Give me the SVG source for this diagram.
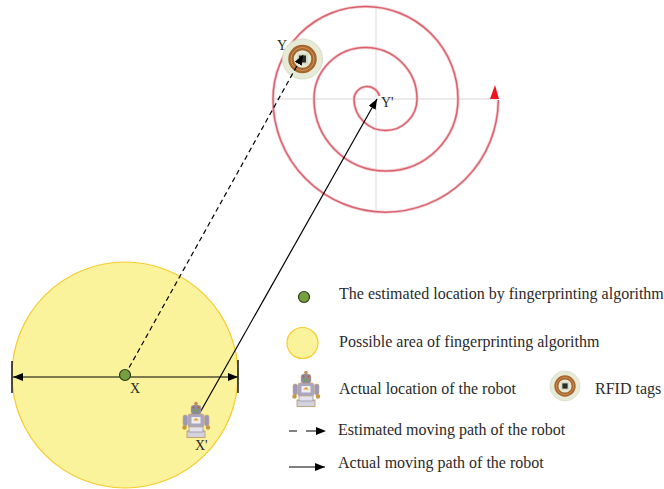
<svg xmlns="http://www.w3.org/2000/svg" width="664" height="489" viewBox="0 0 664 489">
<style>
text{font-family:"Liberation Serif","Times New Roman",serif;font-size:16px;fill:#2a2a2a}
.lab{font-size:14px}
.axis{stroke:#e6e4e8;stroke-width:1.4;fill:none}
.halo{stroke:#f6c9cd;stroke-width:3;fill:none}
.spiral{stroke:#d8636f;stroke-width:1.5;fill:none}
.area{fill:#fbf29c;stroke:#f6cb2e;stroke-width:1.2}
.dot{fill:#76a040;stroke:#2f3a1c;stroke-width:1.2}
.line{stroke:#000;stroke-width:1.2;fill:none}
.tick{stroke:#222;stroke-width:1.6;fill:none}
.dash{stroke-dasharray:5 3.5}
</style>
<defs>
<marker id="ah" markerUnits="userSpaceOnUse" markerWidth="12" markerHeight="10" refX="10" refY="4" orient="auto"><path d="M0 0L10 4L0 8Z" fill="#000"/></marker>
<g id="tag">
<circle r="20" fill="#e5ebd7" stroke="#cfd6bf" stroke-width="0.8"/>
<circle r="11.500" fill="none" stroke="#a8662c" stroke-width="5.500"/>
<circle r="11.500" fill="none" stroke="#d09a62" stroke-width="1"/>
<rect x="-5.500" y="-5.500" width="11" height="11" fill="#d9d9c8"/>
<rect x="-3.500" y="-3.500" width="7" height="7" fill="#2c2e28"/>
</g>
<g id="robot">
<rect x="-9" y="11" width="18" height="6.500" fill="#d4d2de" stroke="#b8945a" stroke-width="0.8"/>
<rect x="-7" y="6" width="14" height="6" fill="#e4e2ea" stroke="#8e8aa2" stroke-width="0.7"/>
<rect x="-8" y="-6" width="16" height="13" rx="2" fill="#a9a6c2" stroke="#c9a878" stroke-width="0.7"/>
<rect x="-4.500" y="-3" width="9" height="6.500" fill="#efedf2"/>
<path d="M-3 0.500L0 -2L3 0.500Z" fill="#e0a020"/>
<rect x="-13" y="-5" width="4.500" height="11" rx="2" fill="#9a97b8" stroke="#c9a878" stroke-width="0.6"/>
<rect x="8.500" y="-5" width="4.500" height="11" rx="2" fill="#9a97b8" stroke="#c9a878" stroke-width="0.6"/>
<circle cx="-11.500" cy="7.500" r="2.200" fill="#c69a3c"/>
<circle cx="12" cy="7.500" r="2.200" fill="#c69a3c"/>
<rect x="-5" y="-15" width="10" height="9.500" rx="3" fill="#8b88a8" stroke="#c9a878" stroke-width="0.5"/>
<rect x="-2.500" y="-11" width="5" height="3.500" fill="#7d9a68"/>
<circle cx="0" cy="-16.500" r="1.800" fill="#c68a5a"/>
<circle cx="-2.500" cy="-12.500" r="0.900" fill="#c0582a"/>
<circle cx="2.500" cy="-12.500" r="0.900" fill="#c0582a"/>
</g>
</defs>

<g id="spiral-path">
<path class="axis" d="M273 99H498M376 5V210"/>
<path class="halo" d="M498.300 100A112.500 112.500 0 0 1 273 99A92.500 92.500 0 0 1 458 99A72 72 0 0 1 314 99A51.500 51.500 0 0 1 417 99A31.500 31.500 0 0 1 354 99A13 13 0 0 1 379.500 96"/>
<path class="spiral" d="M498.300 100A112.500 112.500 0 0 1 273 99A92.500 92.500 0 0 1 458 99A72 72 0 0 1 314 99A51.500 51.500 0 0 1 417 99A31.500 31.500 0 0 1 354 99A13 13 0 0 1 379.500 96"/>
<path d="M490 99L495 85L499 99Z" fill="#f0141e"/>
</g>

<g id="area"><circle class="area" cx="125" cy="375" r="113"/></g>
<g id="tag-y"><use href="#tag" x="302.500" y="59"/><text class="lab" x="277" y="50">Y</text></g>
<g id="label-y2"><text class="lab" x="381" y="107">Y'</text></g>

<g id="connectors">
<path class="line dash" d="M125 375L303 55" marker-end="url(#ah)"/>
<path class="line" d="M193 425L377 99" marker-end="url(#ah)"/>
<path class="line" d="M125 377H238" marker-end="url(#ah)"/>
<path class="line" d="M125 377H13" marker-end="url(#ah)"/>
<path class="tick" d="M12 361V393M238 360V393"/>
</g>

<g id="x"><circle class="dot" cx="125" cy="375" r="5.500"/><text class="lab" x="130" y="393">X</text></g>
<g id="robot-x2"><use href="#robot" x="196" y="420"/><text class="lab" x="195" y="450">X'</text></g>

<g id="legend-estimate"><circle class="dot" cx="304" cy="297" r="5.500"/><text x="339" y="299">The estimated location by fingerprinting algorithm</text></g>
<g id="legend-area"><circle class="area" cx="302.500" cy="343" r="15.500"/><text x="339" y="347">Possible area of fingerprinting algorithm</text></g>
<g id="legend-robot"><use href="#robot" x="306" y="389"/><text x="339" y="394">Actual location of the robot</text></g>
<g id="legend-tag"><use href="#tag" transform="translate(565 386) scale(0.75)"/><text x="595" y="394">RFID tags</text></g>
<g id="legend-estimated-path"><path class="line" d="M289 431H297M306 431H316"/><path d="M316 427L326 431L316 435Z"/><text x="338" y="435">Estimated moving path of the robot</text></g>
<g id="legend-actual-path"><path class="line" d="M289 467H325" marker-end="url(#ah)"/><text x="338" y="468">Actual moving path of the robot</text></g>
</svg>
